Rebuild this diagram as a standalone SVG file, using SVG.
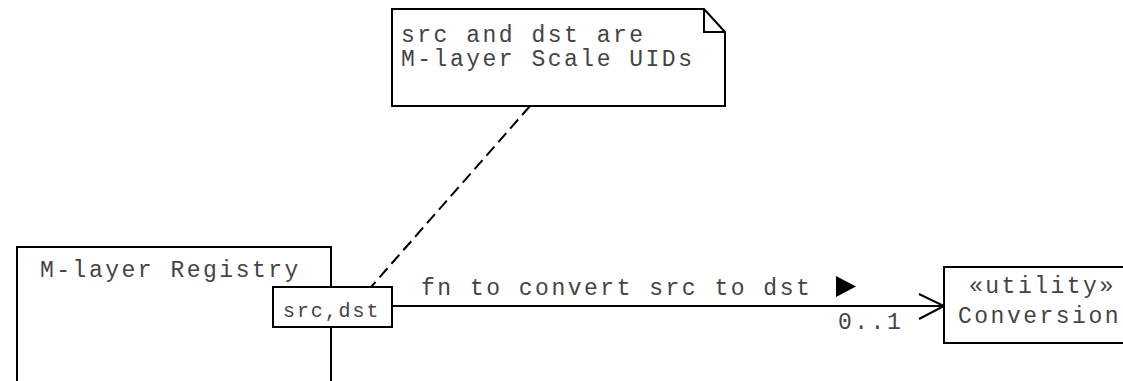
<svg xmlns="http://www.w3.org/2000/svg" width="1123" height="381" viewBox="0 0 1123 381">
  <style>
    .box { fill: #ffffff; stroke: #000000; stroke-width: 2; }
    .txt { font-family: "Liberation Mono", "Courier New", monospace; font-size: 23px; letter-spacing: 2.5px; fill: #444444; }
    .small { font-size: 20px; letter-spacing: 1.9px; }
    .line { fill: none; stroke: #000000; stroke-width: 2; }
    .dash { stroke-dasharray: 12 6; }
  </style>

  <!-- connectors -->
  <g id="connectors">
    <!-- note anchor -->
    <line class="line dash" x1="530" y1="106" x2="371" y2="287"/>
    <!-- association from port to Conversion -->
    <line class="line" x1="392" y1="306" x2="944" y2="306"/>
    <polyline class="line" points="919,294 944,306 919,319"/>
    <text class="txt" x="421" y="295">fn to convert src to dst</text>
    <polygon points="836,276 836,297 856,286.5" fill="#000000"/>
    <text class="txt" x="838" y="329">0..1</text>
  </g>

  <!-- note -->
  <g id="note">
    <path class="box" d="M392,9 H704 L725,32 V106 H392 Z"/>
    <path class="line" d="M704,9 V32 H725"/>
    <text class="txt" x="401" y="42">src and dst are</text>
    <text class="txt" x="401" y="66">M-layer Scale UIDs</text>
  </g>

  <!-- registry with port -->
  <g id="registry">
    <rect class="box" x="17" y="247" width="314" height="150"/>
    <text class="txt" x="40" y="277">M-layer Registry</text>
  </g>
  <g id="port">
    <rect class="box" x="273" y="287" width="119" height="40"/>
    <text class="txt small" x="283" y="317">src,dst</text>
  </g>

  <!-- utility class -->
  <g id="conversion">
    <rect class="box" x="944" y="267" width="192" height="76"/>
    <text class="txt" x="969" y="293">«utility»</text>
    <text class="txt" x="958" y="323">Conversion</text>
  </g>
</svg>
